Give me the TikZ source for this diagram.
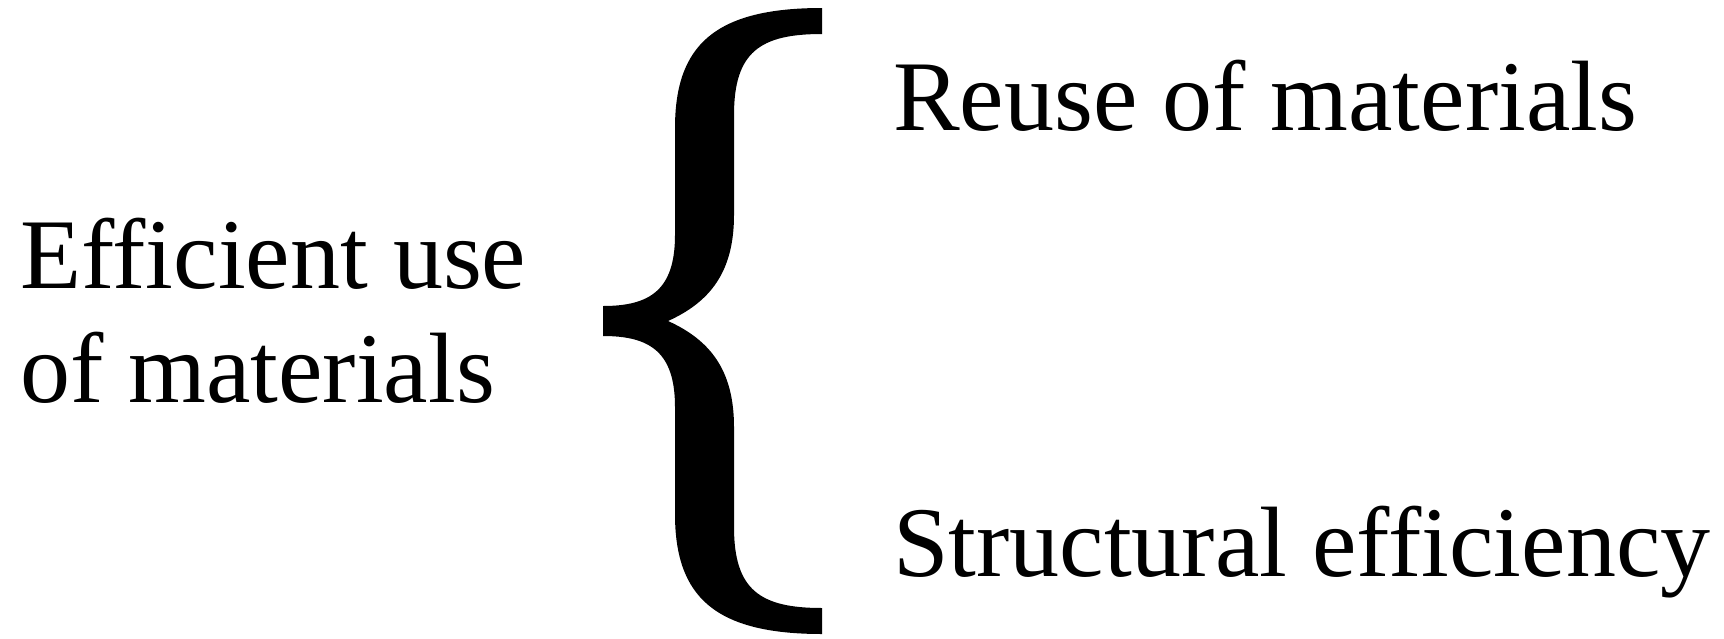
\documentclass[tikz,border=0pt]{standalone}
\usepackage{fontspec}
\setmainfont{Liberation Serif}
\begin{document}
\begin{tikzpicture}[x=0.5pt,y=-0.5pt,
  lbl/.style={anchor=base west,inner sep=0pt,outer sep=0pt,align=left,
    font=\fontsize{50}{57}\selectfont}]
\useasboundingbox (0,0) rectangle (1724,638);
\node[lbl] (eff) at (20,402) {Efficient use\\of materials};
\node[lbl] (reuse) at (893,130) {Reuse of materials};
\node[lbl] (struct) at (893,576) {Structural efficiency};
\fill[black] (822,8)
  .. controls (715,8) and (675,45) .. (675,128)
  -- (675,235)
  .. controls (675,290) and (650,306) .. (603,306)
  -- (603,336)
  .. controls (650,336) and (675,352) .. (675,407)
  -- (675,514)
  .. controls (675,597) and (715,634) .. (822,634)
  -- (822,608)
  .. controls (760,608) and (734,590) .. (734,527)
  -- (734,427)
  .. controls (734,370) and (710,340) .. (668,321)
  .. controls (710,302) and (734,272) .. (734,215)
  -- (734,115)
  .. controls (734,52) and (760,34) .. (822,34)
  -- cycle;
\end{tikzpicture}
\end{document}
